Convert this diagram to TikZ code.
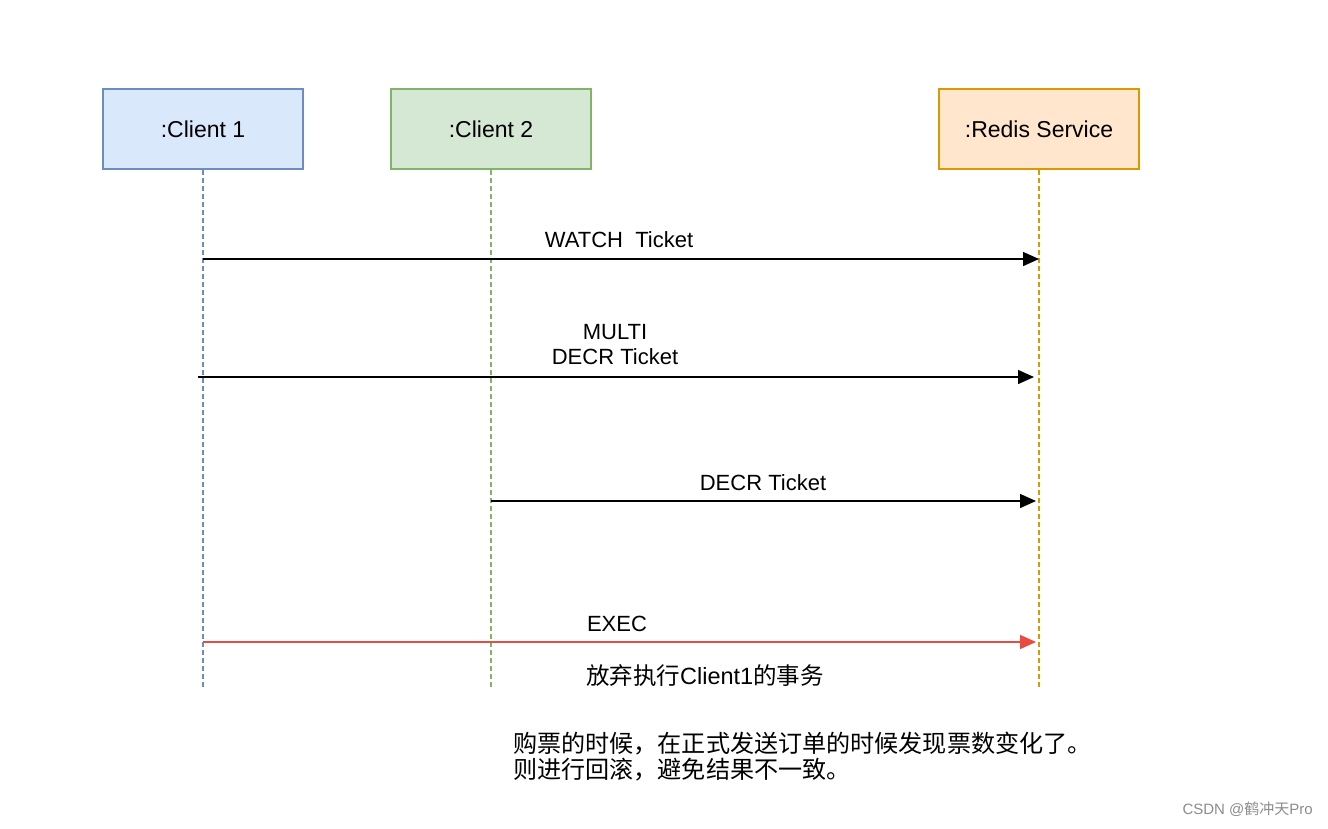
\documentclass[tikz,border=0pt]{standalone}
\usepackage{fontspec}
\setmainfont{Liberation Sans}
\newfontfamily\cjk{Noto Sans CJK SC}
\usetikzlibrary{arrows.meta}
\definecolor{c1fill}{HTML}{DAE8FC}\definecolor{c1draw}{HTML}{6C8EBF}
\definecolor{c2fill}{HTML}{D5E8D4}\definecolor{c2draw}{HTML}{82B366}
\definecolor{rfill}{HTML}{FFE6CC}\definecolor{rdraw}{HTML}{D79B00}
\definecolor{redarrow}{HTML}{EA4B40}
\tikzset{
  actor/.style={draw, line width=1.5pt, minimum width=200pt, minimum height=80pt, inner sep=0pt, font=\fontsize{23}{27}\selectfont},
  life/.style={line width=1.3pt, dash pattern=on 5pt off 3pt},
  msg/.style={line width=1.5pt, -{Triangle[length=16pt,width=14pt]}},
  lbl/.style={inner sep=0pt, font=\fontsize{22}{26}\selectfont, align=center},
}
\begin{document}
\begin{tikzpicture}[x=1pt,y=-1pt]
\useasboundingbox (0,0) rectangle (1328,828);
\node[actor, fill=c1fill, draw=c1draw] (c1) at (203,129) {:Client 1};
\node[actor, fill=c2fill, draw=c2draw] (c2) at (491,129) {:Client 2};
\node[actor, fill=rfill, draw=rdraw] (rs) at (1039,129) {:Redis Service};
\coordinate (c1end) at (203,689);
\coordinate (c2end) at (491,689);
\coordinate (rsend) at (1039,689);
\draw[life, c1draw] (c1.south) -- (c1end);
\draw[life, c2draw] (c2.south) -- (c2end);
\draw[life, rdraw] (rs.south) -- (rsend);
% message endpoints
\coordinate (a1s) at (203,259); \coordinate (a1e) at (1039,259);
\coordinate (a2s) at (198,377); \coordinate (a2e) at (1034,377);
\coordinate (a3s) at (491,501); \coordinate (a3e) at (1036,501);
\coordinate (a4s) at (203,642); \coordinate (a4e) at (1036,642);
\draw[msg] (a1s) -- (a1e);
\draw[msg] (a2s) -- (a2e);
\draw[msg] (a3s) -- (a3e);
\draw[msg, redarrow] (a4s) -- (a4e);
\node[lbl] (l1) at (619,240) {WATCH\ \ Ticket};
\node[lbl] (l2) at (615,345) {MULTI\\[-1pt]DECR Ticket};
\node[lbl] (l3) at (763,483) {DECR Ticket};
\node[lbl] (l4) at (617,624) {EXEC};
\node[lbl, font=\fontsize{23.5}{28}\selectfont] (l5) at (705,676) {{\cjk 放弃执行}Client1{\cjk 的事务}};
\node[inner sep=0pt, anchor=west, align=left, font=\fontsize{24.1}{26}\cjk] (note) at (513,757) {购票的时候，在正式发送订单的时候发现票数变化了。\\则进行回滚，避免结果不一致。};
\node[inner sep=0pt, anchor=east, text=black!45, font=\fontsize{15}{18}\selectfont] (wm) at (1313,809) {CSDN @{\cjk 鹤冲天}Pro};
\end{tikzpicture}
\end{document}
